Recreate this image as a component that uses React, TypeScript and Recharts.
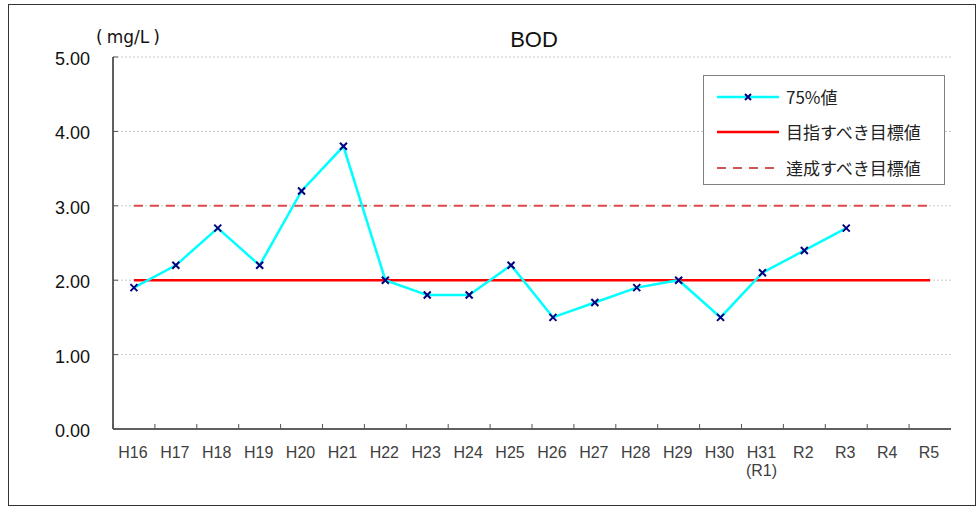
import React from 'react';
import { LineChart, Line, XAxis, YAxis, CartesianGrid, Legend } from 'recharts';

const categories = ['H16', 'H17', 'H18', 'H19', 'H20', 'H21', 'H22', 'H23', 'H24', 'H25', 'H26', 'H27', 'H28', 'H29', 'H30', 'H31\n(R1)', 'R2', 'R3', 'R4', 'R5'];
const values75: (number | null)[] = [1.9, 2.2, 2.7, 2.2, 3.2, 3.8, 2.0, 1.8, 1.8, 2.2, 1.5, 1.7, 1.9, 2.0, 1.5, 2.1, 2.4, 2.7, null, null];
const targetAim: number[] = [2, 2, 2, 2, 2, 2, 2, 2, 2, 2, 2, 2, 2, 2, 2, 2, 2, 2, 2, 2];
const targetAchieve: number[] = [3, 3, 3, 3, 3, 3, 3, 3, 3, 3, 3, 3, 3, 3, 3, 3, 3, 3, 3, 3];
const yTicks = [0, 1, 2, 3, 4, 5];

const SERIES_75 = '75%値';
const SERIES_AIM = '目指すべき目標値';
const SERIES_ACH = '達成すべき目標値';

const data = categories.map((c, i) => ({
  cat: c,
  v75: values75[i],
  aim: targetAim[i],
  ach: targetAchieve[i],
}));

const W = 977;
const H = 508;
const Y_W = 113;
const X_H = 79;
const M_TOP = 57;
const M_RIGHT = 26;
const PLOT_W = W - Y_W - M_RIGHT;
const STEP = PLOT_W / categories.length;
const CJK = '"Noto Sans CJK JP", "DejaVu Sans", sans-serif';
const SANS = '"Liberation Sans", Arial, sans-serif';
const DEJA = '"DejaVu Sans", sans-serif';

const XDot = (props: any) => {
  const { cx, cy } = props;
  if (cx == null || cy == null || props.value == null) return null;
  const s = 3.5;
  return (
    <g>
      <line x1={cx - s} y1={cy - s} x2={cx + s} y2={cy + s} stroke="#000080" strokeWidth={2} />
      <line x1={cx - s} y1={cy + s} x2={cx + s} y2={cy - s} stroke="#000080" strokeWidth={2} />
    </g>
  );
};

const XTick = (props: any) => {
  const { x, y, payload } = props;
  const lines = String(payload.value).split('\n');
  return (
    <g>
      <line x1={x - STEP / 2} x2={x - STEP / 2} y1={y} y2={y - 5} stroke="#555" strokeWidth={1} />
      {lines.map((l, i) => (
        <text key={i} x={x - 1} y={y + 29 + i * 18} textAnchor="middle" fontSize={16} fill="#404040" fontFamily={SANS}>
          {l}
        </text>
      ))}
    </g>
  );
};

const YTick = (props: any) => {
  const { x, y, payload } = props;
  return (
    <g>
      <line x1={x} x2={x + 5} y1={y} y2={y} stroke="#555" strokeWidth={1} />
      <text x={x - 23} y={y} dy={8} textAnchor="end" fontSize={18} fill="#111" fontFamily={SANS}>
        {Number(payload.value).toFixed(2)}
      </text>
    </g>
  );
};

const LegendContent = () => {
  const rows = [
    { name: SERIES_75, kind: '75' },
    { name: SERIES_AIM, kind: 'aim' },
    { name: SERIES_ACH, kind: 'ach' },
  ];
  return (
    <div style={{ width: 242, height: 110, border: '1px solid #808080', background: '#fff', boxSizing: 'border-box', paddingTop: 3 }}>
      {rows.map((r) => (
        <div key={r.name} style={{ display: 'flex', alignItems: 'center', height: 35.5 }}>
          <svg width={70} height={20} style={{ marginLeft: 12, flex: 'none' }}>
            {r.kind === '75' && (
              <g>
                <line x1={1} x2={63} y1={10} y2={10} stroke="#00FFFF" strokeWidth={2.5} />
                <line x1={29} y1={7} x2={35} y2={13} stroke="#000080" strokeWidth={2} />
                <line x1={29} y1={13} x2={35} y2={7} stroke="#000080" strokeWidth={2} />
              </g>
            )}
            {r.kind === 'aim' && <line x1={1} x2={63} y1={10} y2={10} stroke="#FF0000" strokeWidth={2.5} />}
            {r.kind === 'ach' && <line x1={1} x2={63} y1={10} y2={10} stroke="#CC5552" strokeWidth={2} strokeDasharray="9 7" />}
          </svg>
          <span style={{ fontFamily: CJK, fontSize: 17, color: '#222', whiteSpace: 'nowrap', lineHeight: '20px' }}>{r.name}</span>
        </div>
      ))}
    </div>
  );
};

export default function App() {
  return (
    <div style={{ position: 'absolute', left: 0, top: 0, width: W, height: H, background: '#fff' }}>
      <div style={{ position: 'absolute', left: 8, top: 4, width: 968, height: 502, border: '1.5px solid #333', boxSizing: 'border-box' }} />
      <div style={{ position: 'absolute', left: 434, width: 200, top: 27, textAlign: 'center', fontFamily: SANS, fontSize: 22, color: '#111', lineHeight: '26px' }}>BOD</div>
      <div style={{ position: 'absolute', left: 96, top: 26, fontFamily: DEJA, fontSize: 17, color: '#111', lineHeight: '22px', whiteSpace: 'nowrap' }}>
        <span>(</span>
        <span style={{ margin: '0 4px' }}>mg/L</span>
        <span>)</span>
      </div>
      <div style={{ position: 'absolute', left: 0, top: 0 }}>
        <LineChart width={W} height={H} data={data} margin={{ top: M_TOP, right: M_RIGHT, bottom: 0, left: 0 }}>
          <CartesianGrid vertical={false} stroke="#C8C8C8" strokeDasharray="2 2" />
          <XAxis
            dataKey="cat"
            height={X_H}
            padding={{ left: STEP / 2, right: STEP / 2 }}
            interval={0}
            tickSize={0}
            tickMargin={0}
            tickLine={false}
            axisLine={{ stroke: '#606060', strokeWidth: 2 }}
            tick={<XTick />}
          />
          <XAxis xAxisId="top" dataKey="cat" orientation="top" height={0} tick={false} tickLine={false} axisLine={{ stroke: '#8C8C8C', strokeWidth: 1.5 }} />
          <YAxis
            width={Y_W}
            domain={[0, 5]}
            ticks={yTicks}
            tickSize={0}
            tickMargin={0}
            tickLine={false}
            axisLine={{ stroke: '#606060', strokeWidth: 2 }}
            tick={<YTick />}
          />
          <YAxis yAxisId="right" orientation="right" width={0} domain={[0, 5]} tick={false} tickLine={false} axisLine={{ stroke: '#8C8C8C', strokeWidth: 1.5 }} />
          <Line dataKey="aim" name={SERIES_AIM} stroke="#FF0000" strokeWidth={2.5} dot={false} isAnimationActive={false} />
          <Line dataKey="ach" name={SERIES_ACH} stroke="#E04848" strokeWidth={2} strokeDasharray="9 7" dot={false} isAnimationActive={false} />
          <Line dataKey="v75" name={SERIES_75} stroke="#00FFFF" strokeWidth={2.5} dot={<XDot />} connectNulls={false} isAnimationActive={false} />
          <Legend
            layout="vertical"
            align="center"
            verticalAlign="middle"
            content={<LegendContent />}
            wrapperStyle={{ position: 'absolute', left: 703, top: 75, width: 242, height: 110 }}
          />
        </LineChart>
      </div>
    </div>
  );
}
